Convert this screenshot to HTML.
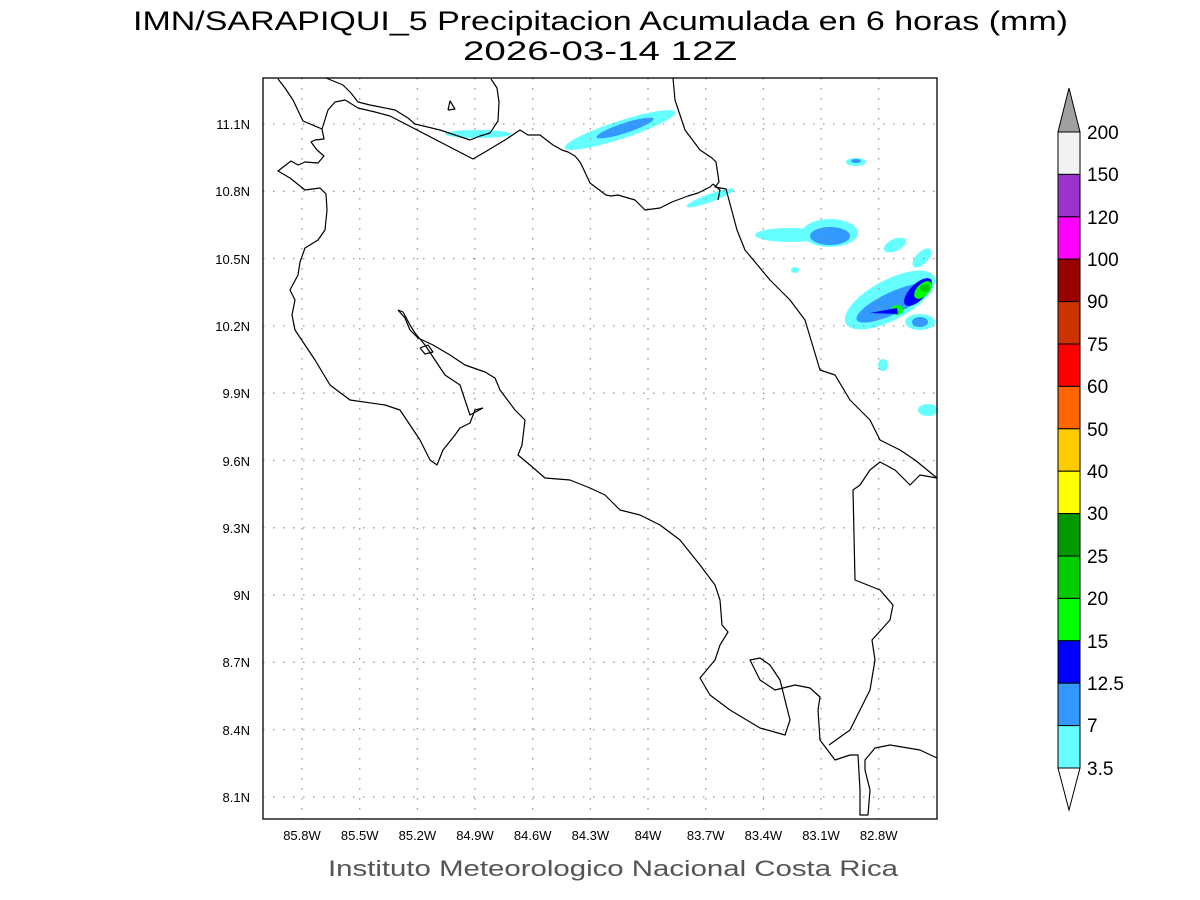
<!DOCTYPE html>
<html><head><meta charset="utf-8"><style>
html,body{margin:0;padding:0;background:#fff;width:1200px;height:900px;overflow:hidden}
svg{display:block}
text{font-family:"Liberation Sans",sans-serif}
</style></head><body>
<svg width="1200" height="900" viewBox="0 0 1200 900">
<text x="133" y="30" font-size="27" textLength="935" lengthAdjust="spacingAndGlyphs">IMN/SARAPIQUI_5 Precipitacion Acumulada en 6 horas (mm)</text>
<text x="463" y="60" font-size="27" textLength="274" lengthAdjust="spacingAndGlyphs">2026-03-14 12Z</text>
<!-- precip -->
<g>
<ellipse cx="620" cy="130" rx="58" ry="9" transform="rotate(-18 620 130)" fill="#66ffff"/>
<ellipse cx="625" cy="128" rx="30" ry="5" transform="rotate(-18 625 128)" fill="#3399ff"/>
<ellipse cx="478" cy="134" rx="33" ry="4" fill="#66ffff"/>
<ellipse cx="710" cy="198" rx="25" ry="4" transform="rotate(-20 710 198)" fill="#66ffff"/>
<ellipse cx="856" cy="162" rx="10" ry="4" fill="#66ffff"/>
<ellipse cx="856" cy="161" rx="5" ry="2" fill="#3399ff"/>
<ellipse cx="790" cy="235" rx="35" ry="7" fill="#66ffff"/>
<ellipse cx="830" cy="233" rx="28" ry="14" fill="#66ffff"/>
<ellipse cx="830" cy="236" rx="20" ry="9" fill="#3399ff"/>
<ellipse cx="895" cy="245" rx="12" ry="6" transform="rotate(-25 895 245)" fill="#66ffff"/>
<ellipse cx="922" cy="258" rx="12" ry="6" transform="rotate(-45 922 258)" fill="#66ffff"/>
<ellipse cx="890" cy="300" rx="50" ry="20" transform="rotate(-28 890 300)" fill="#66ffff"/>
<ellipse cx="893" cy="303" rx="40" ry="11" transform="rotate(-25 893 303)" fill="#3399ff"/>
<ellipse cx="918" cy="292" rx="18" ry="8" transform="rotate(-45 918 292)" fill="#0000ff"/>
<ellipse cx="923" cy="290" rx="11" ry="6" transform="rotate(-45 923 290)" fill="#00ff00"/>
<ellipse cx="925" cy="288" rx="5" ry="4" fill="#00cc00"/>
<ellipse cx="897" cy="310" rx="6" ry="5" fill="#00ff00"/>
<path d="M870 313 L897 308 L898 314 Z" fill="#0000ff"/>
<ellipse cx="920" cy="322" rx="15" ry="8" fill="#66ffff"/>
<ellipse cx="920" cy="322" rx="8" ry="5" fill="#3399ff"/>
<ellipse cx="883" cy="365" rx="5" ry="6" fill="#66ffff"/>
<ellipse cx="928" cy="410" rx="10" ry="6" fill="#66ffff"/>
<ellipse cx="795" cy="270" rx="4" ry="3" fill="#66ffff"/>
</g>
<!-- grid -->
<g stroke="#999" stroke-width="1.3" stroke-dasharray="1.5,8.5" fill="none">
<path d="M302 78V819M359.7 78V819M417.4 78V819M475 78V819M532.7 78V819M590.4 78V819M648 78V819M705.7 78V819M763.4 78V819M821 78V819M878.7 78V819"/>
<path d="M263 124H937M263 191.3H937M263 258.6H937M263 325.9H937M263 393.2H937M263 460.5H937M263 527.8H937M263 595H937M263 662.3H937M263 729.6H937M263 797H937"/>
</g>
<!-- coast -->
<g stroke="#000" stroke-width="1.2" fill="none" stroke-linejoin="round">
<polyline points="278,79 285,88 293,100 303,121 322,129 324,139 315,140 311,142 317,150 324,156 318,163 305,162 298,165 291,161 278,171 290,178 305,190 320,188 326,194 327,210 325,230 318,240 305,248 300,262 298,275 290,290 295,300 292,315 295,330 315,360 330,385 350,400 385,405 400,410 410,425 420,440 430,460 437,465 443,450 455,435 460,428 470,423 475,410 483,408"/>
<polyline points="398,310 405,318 410,330 418,338 433,345 450,355 465,365 485,372 495,378 500,390 515,410 525,420 522,445 518,455 530,465 545,478 570,480 590,488 605,495 620,510 640,515 660,525 680,540 700,565 715,585 720,600 722,625 728,632 720,645 715,660 700,678 710,695 730,710 760,728 785,735 790,720 785,700 780,680 770,665 760,658 750,660 760,680 775,690 795,685 810,688 820,697 818,710 820,740 835,760 850,755 858,755 860,790 860,815 868,815 870,790 865,770 865,760 875,748 890,745 920,750 937,758"/>
<polyline points="398,310 403,312 410,325 415,333 425,345 435,360 445,375 460,385 465,400 470,415 483,408"/>
<polyline points="420,348 428,345 433,352 425,354 420,348"/>
<polyline points="829,745 850,730 860,710 870,690 875,660 872,640 890,620 893,605 880,590 855,580 853,490 860,485 870,470 880,462 895,470 910,485 920,475 937,478"/>
<polyline points="322,129 328,110 335,102 345,100 350,103 358,108 375,112 390,116 473,159 485,152 495,146 505,140 520,130 528,135 540,135 553,145 562,150 568,152 575,156 580,162 583,168 590,183 606,195 611,196 618,195 635,200 645,210 660,208 672,202 688,196 698,193 710,187 713,184"/>
<polyline points="326,78 343,85 351,93 358,102 370,105 395,110 408,118 415,124 440,130 455,135 470,140 480,136 490,133 498,121 499,102 497,88 491,79"/>
<polyline points="448,110 450,101 455,109 448,110"/>
<polyline points="673,78 675,100 685,130 700,150 712,158 716,162 719,182 715,187 726,189 733,215 737,230 745,250 755,262 770,280 790,300 805,320 820,370 835,375 850,400 870,420 880,440 900,450 915,460 937,478"/>
<polyline points="713,184 720,190 718,200"/>
</g>
<rect x="263" y="78" width="674" height="741" fill="none" stroke="#000" stroke-width="1.3"/>
<g font-size="13" text-anchor="end">
<text x="250" y="129">11.1N</text><text x="250" y="196">10.8N</text><text x="250" y="264">10.5N</text><text x="250" y="331">10.2N</text><text x="250" y="398">9.9N</text><text x="250" y="466">9.6N</text><text x="250" y="533">9.3N</text><text x="250" y="600">9N</text><text x="250" y="667">8.7N</text><text x="250" y="735">8.4N</text><text x="250" y="802">8.1N</text>
</g>
<g font-size="13" text-anchor="middle">
<text x="302" y="840">85.8W</text><text x="359.7" y="840">85.5W</text><text x="417.4" y="840">85.2W</text><text x="475" y="840">84.9W</text><text x="532.7" y="840">84.6W</text><text x="590.4" y="840">84.3W</text><text x="648" y="840">84W</text><text x="705.7" y="840">83.7W</text><text x="763.4" y="840">83.4W</text><text x="821" y="840">83.1W</text><text x="878.7" y="840">82.8W</text>
</g>
<text x="328" y="876" font-size="22" fill="#555" textLength="570" lengthAdjust="spacingAndGlyphs">Instituto Meteorologico Nacional Costa Rica</text>
<!-- colorbar -->
<g stroke="#000" stroke-width="1">
<polygon points="1058,132 1069,88 1080,132" fill="#a0a0a0"/>
<rect x="1058" y="132" width="22" height="42.4" fill="#f2f2f2"/>
<rect x="1058" y="174.4" width="22" height="42.4" fill="#9933cc"/>
<rect x="1058" y="216.8" width="22" height="42.4" fill="#ff00ff"/>
<rect x="1058" y="259.2" width="22" height="42.4" fill="#990000"/>
<rect x="1058" y="301.6" width="22" height="42.4" fill="#cc3300"/>
<rect x="1058" y="344" width="22" height="42.4" fill="#ff0000"/>
<rect x="1058" y="386.4" width="22" height="42.4" fill="#ff6600"/>
<rect x="1058" y="428.8" width="22" height="42.4" fill="#ffcc00"/>
<rect x="1058" y="471.2" width="22" height="42.4" fill="#ffff00"/>
<rect x="1058" y="513.6" width="22" height="42.4" fill="#009900"/>
<rect x="1058" y="556" width="22" height="42.4" fill="#00cc00"/>
<rect x="1058" y="598.4" width="22" height="42.4" fill="#00ff00"/>
<rect x="1058" y="640.8" width="22" height="42.4" fill="#0000ff"/>
<rect x="1058" y="683.2" width="22" height="42.4" fill="#3399ff"/>
<rect x="1058" y="725.6" width="22" height="42.4" fill="#66ffff"/>
<polygon points="1058,768 1069,810 1080,768" fill="#fff"/>
</g>
<g font-size="19">
<text x="1087" y="139">200</text><text x="1087" y="181">150</text><text x="1087" y="224">120</text><text x="1087" y="266">100</text><text x="1087" y="308">90</text><text x="1087" y="351">75</text><text x="1087" y="393">60</text><text x="1087" y="436">50</text><text x="1087" y="478">40</text><text x="1087" y="520">30</text><text x="1087" y="563">25</text><text x="1087" y="605">20</text><text x="1087" y="648">15</text><text x="1087" y="690">12.5</text><text x="1087" y="732">7</text><text x="1087" y="775">3.5</text>
</g>
</svg>
</body></html>
